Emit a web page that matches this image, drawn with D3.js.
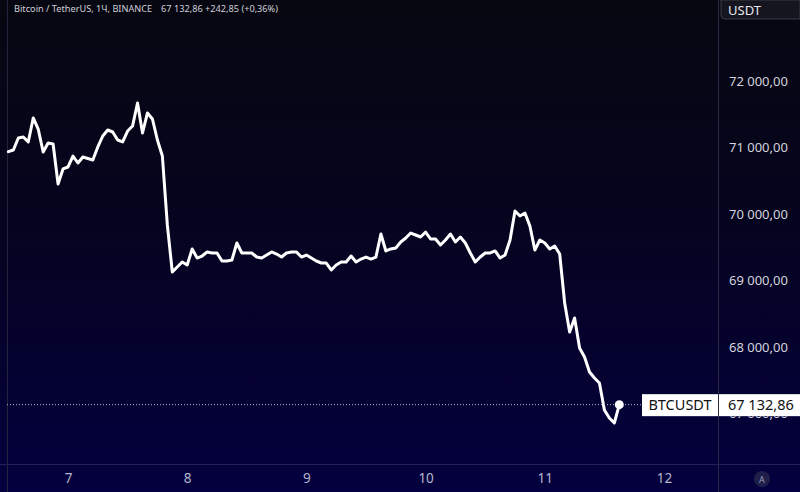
<!DOCTYPE html>
<html>
<head>
<meta charset="utf-8">
<script src="https://cdn.jsdelivr.net/npm/d3@7/dist/d3.min.js"></script>
<style>
html,body{margin:0;padding:0;background:#04041a;}
svg{display:block;}
text{font-family:"Noto Sans","Open Sans",sans-serif;}
</style>
</head>
<body>
<svg id="chart" width="800" height="492"></svg>
<script>
// ---- data ----
const title = "Bitcoin / TetherUS, 1Ч, BINANCE";
const lastPriceText = "67 132,86";
const changeText = "+242,85 (+0,36%)";
const symbol = "BTCUSDT";
const currency = "USDT";
const startDay = 6.5; // 6th, 12:00
const prices = [
70937,70962,71143,71158,71083,71444,71278,70932,71068,71053,
70451,70677,70707,70872,70767,70857,70835,70812,71008,71173,
71263,71233,71113,71083,71248,71323,71669,71218,71519,71429,
71113,70872,69835,69128,69203,69278,69233,69474,69338,69368,
69429,69414,69414,69293,69293,69308,69564,69414,69414,69414,
69353,69338,69383,69429,69398,69353,69414,69429,69429,69353,
69383,69338,69293,69263,69263,69158,69233,69278,69278,69368,
69278,69323,69353,69323,69353,69699,69444,69474,69489,69579,
69639,69714,69684,69654,69729,69624,69624,69534,69609,69699,
69579,69654,69564,69414,69278,69353,69414,69414,69444,69338,
69383,69609,70045,69970,70015,69820,69459,69609,69564,69474,
69519,69398,68662,68226,68436,67985,67850,67624,67534,67459,
67053,66932,66857,67132.86
];
const hours = prices.map((_, i) => i); // hourly candles
const xTicks = [7, 8, 9, 10, 11, 12];
const yTicks = [67000, 68000, 69000, 70000, 71000, 72000];

// ---- layout ----
const W = 800, H = 492;
const plotLeft = 7, plotRight = 718, axisY = 464;
const svg = d3.select("#chart");

const defs = svg.append("defs");
const grad = defs.append("linearGradient").attr("id", "bg").attr("x1", 0).attr("y1", 0).attr("x2", 0).attr("y2", 1);
grad.append("stop").attr("offset", "0%").attr("stop-color", "#070711");
grad.append("stop").attr("offset", "45%").attr("stop-color", "#05041f");
grad.append("stop").attr("offset", "100%").attr("stop-color", "#04003f");
svg.append("rect").attr("width", W).attr("height", H).attr("fill", "url(#bg)");

const x = d3.scaleLinear().domain([7, 12]).range([68, 664]);
const y = d3.scaleLinear().domain([68000, 72000]).range([347, 81]);

const ru = d3.formatLocale({decimal: ",", thousands: "\u202f", grouping: [3], currency: ["", ""]});
const fmt = v => ru.format(",.2f")(v).replace(/\u202f/g, " ");

const last = {t: startDay + hours[hours.length - 1] / 24, v: prices[prices.length - 1]};
const ly = y(last.v);

// clip that hides the part of the price axis covered by the last-price label
defs.append("clipPath").attr("id", "axisClip").append("path")
  .attr("d", `M0,0 H${W} V${ly - 10.5} H0 Z M0,${ly + 11.5} H${W} V${H} H0 Z`);

// frame lines
svg.append("line").attr("x1", plotLeft + 0.5).attr("x2", plotLeft + 0.5).attr("y1", 0).attr("y2", H)
  .attr("stroke", "#24243c").attr("stroke-width", 1);
svg.append("line").attr("x1", plotRight + 0.5).attr("x2", plotRight + 0.5).attr("y1", 0).attr("y2", H)
  .attr("stroke", "#2a2a44").attr("stroke-width", 1);
svg.append("line").attr("x1", 0).attr("x2", W).attr("y1", axisY + 0.5).attr("y2", axisY + 0.5)
  .attr("stroke", "#231f5a").attr("stroke-width", 1);

// header
const header = svg.append("text").attr("x", 14).attr("y", 12).attr("font-size", 9.2).attr("fill", "#cfd0d8");
header.append("tspan").text(title);
header.append("tspan").attr("x", 161).text(lastPriceText);
header.append("tspan").attr("x", 205).text(changeText);

// USDT box
svg.append("path")
  .attr("d", "M721,0 L800,0 L800,19 L725,19 Q721,19 721,15 Z")
  .attr("fill", "#15151f").attr("stroke", "#3a3a46").attr("stroke-width", 1);
svg.append("text").attr("x", 728).attr("y", 15).attr("font-size", 13).attr("fill", "#e8e8ee").text(currency);

// y axis
const yAxis = svg.append("g").attr("transform", `translate(${plotRight},0)`)
  .attr("clip-path", "url(#axisClip)")
  .call(d3.axisRight(y).tickValues(yTicks).tickFormat(fmt).tickSize(0).tickPadding(11));
yAxis.select(".domain").remove();
yAxis.selectAll("text").attr("font-size", 13).attr("fill", "#d2d3db")
  .attr("font-family", "'Noto Sans','Open Sans',sans-serif");

// x axis
const xAxis = svg.append("g").attr("transform", `translate(0,${axisY})`)
  .call(d3.axisBottom(x).tickValues(xTicks).tickFormat(d3.format("d")).tickSize(0).tickPadding(9));
xAxis.select(".domain").remove();
xAxis.selectAll("text").attr("font-size", 13.5).attr("fill", "#b4b6cc")
  .attr("font-family", "'Noto Sans','Open Sans',sans-serif");

// line
const pts = hours.map((h, i) => ({t: startDay + h / 24, v: prices[i]}));
const line = d3.line().x(d => x(d.t)).y(d => y(d.v));
svg.append("path").datum(pts).attr("d", line)
  .attr("fill", "none").attr("stroke", "#ffffff").attr("stroke-width", 3)
  .attr("stroke-linejoin", "round").attr("stroke-linecap", "round");

// last price dotted line
svg.append("line").attr("x1", plotLeft).attr("x2", 642).attr("y1", ly).attr("y2", ly)
  .attr("stroke", "#b8b8c8").attr("stroke-width", 1).attr("stroke-dasharray", "1,2");
svg.append("circle").attr("cx", x(last.t)).attr("cy", ly).attr("r", 4.5).attr("fill", "#ffffff");

// price labels
svg.append("rect").attr("x", 642).attr("y", ly - 10.5).attr("width", 76).attr("height", 22).attr("fill", "#ffffff");
svg.append("text").attr("x", 680).attr("y", ly + 5.5).attr("text-anchor", "middle").attr("font-size", 14.5)
  .attr("fill", "#111111").text(symbol);
svg.append("rect").attr("x", 719).attr("y", ly - 10.5).attr("width", 81).attr("height", 22).attr("fill", "#ffffff");
svg.append("text").attr("x", 728).attr("y", ly + 5.5).attr("font-size", 14.5)
  .attr("fill", "#111111").text(fmt(last.v));

// "A" button
svg.append("circle").attr("cx", 762).attr("cy", 479).attr("r", 8).attr("fill", "#1f1f4a");
svg.append("text").attr("x", 762).attr("y", 482.5).attr("text-anchor", "middle").attr("font-size", 9)
  .attr("fill", "#9a9ab8").text("A");
</script>
</body>
</html>
